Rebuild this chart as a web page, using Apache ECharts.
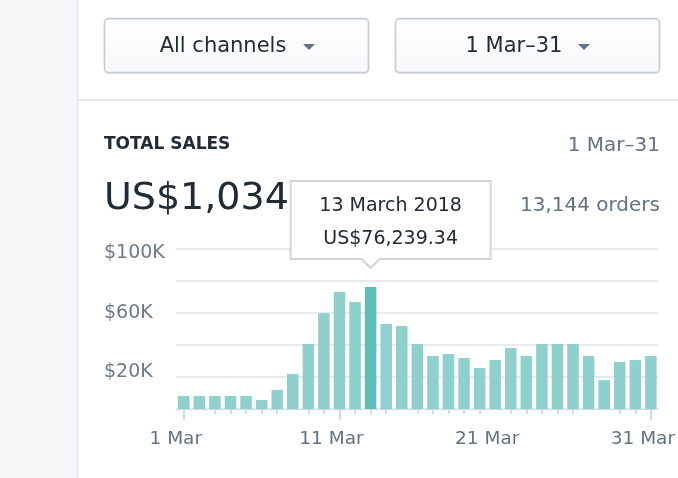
<!DOCTYPE html>
<html>
<head>
<meta charset="utf-8">
<script src="https://cdn.jsdelivr.net/npm/echarts@6/dist/echarts.min.js"></script>
<style>
  html, body { margin: 0; padding: 0; background: #ffffff; }
  #chart { width: 678px; height: 478px; }
</style>
</head>
<body>
<div id="chart"></div>
<script>
// ---- data ----
const days = ['1 Mar','2 Mar','3 Mar','4 Mar','5 Mar','6 Mar','7 Mar','8 Mar','9 Mar','10 Mar',
  '11 Mar','12 Mar','13 Mar','14 Mar','15 Mar','16 Mar','17 Mar','18 Mar','19 Mar','20 Mar',
  '21 Mar','22 Mar','23 Mar','24 Mar','25 Mar','26 Mar','27 Mar','28 Mar','29 Mar','30 Mar','31 Mar'];
const sales = [8100, 8100, 8100, 8100, 8100, 5600, 11900, 21900, 40600, 59800,
  73100, 66900, 76239.34, 53100, 51900, 40600, 33100, 34400, 31900, 25600,
  30600, 38100, 33100, 40600, 40600, 40600, 33100, 18100, 29400, 30600, 33100];
const yTickLabels = ['$100K', '$60K', '$20K'];
const yTickValues = [100000, 60000, 20000];
const highlightIndex = 12;
const highlightDate = '13 March 2018';
const totalSales = 'US$1,034';
const ordersText = '13,144 orders';
const channelText = 'All channels';
const rangeText = '1 Mar\u201331';
const cardTitle = 'TOTAL SALES';
const majorTickIdx = [0, 10, 30];
const hiddenMinorIdx = [1, 7, 14, 20, 26, 27];

const FONT = '"DejaVu Sans", Inter, sans-serif';
const DARK = '#212b36';
const GREY = '#637381';

function fmtMoney(v) {
  const s = v.toFixed(2);
  const parts = s.split('.');
  return 'US$' + parts[0].replace(/\B(?=(\d{3})+(?!\d))/g, ',') + '.' + parts[1];
}

const chart = echarts.init(document.getElementById('chart'), null, { renderer: 'canvas' });

const yRich = {
  t: { color: '#6d7a87', fontFamily: FONT, fontSize: 19, padding: [8, 0, 0, 0] },
  m: { color: '#6d7a87', fontFamily: FONT, fontSize: 19, padding: [0, 0, 0, 0] },
  b: { color: '#6d7a87', fontFamily: FONT, fontSize: 19, padding: [0, 0, 10, 0] }
};
const yRichKeys = ['t', 'm', 'b'];

const option = {
  animation: false,
  backgroundColor: '#ffffff',
  grid: { left: 176, right: 16, top: 249, bottom: 69, containLabel: false },
  xAxis: [
    {
      type: 'category',
      data: days,
      boundaryGap: true,
      axisLine: { show: true, lineStyle: { color: '#d5dade', width: 1 } },
      axisTick: {
        show: true, alignWithLabel: true, length: 5,
        lineStyle: { color: '#c9d0d6', width: 1.5 },
        interval: function (i) { return majorTickIdx.indexOf(i) < 0 && hiddenMinorIdx.indexOf(i) < 0; }
      },
      axisLabel: { show: false }
    },
    {
      type: 'category',
      data: days,
      position: 'bottom',
      boundaryGap: true,
      axisLine: { show: false },
      axisTick: {
        show: true, alignWithLabel: true, length: 11,
        lineStyle: { color: '#c4cdd5', width: 1.5 },
        interval: function (i) { return majorTickIdx.indexOf(i) >= 0; }
      },
      axisLabel: {
        show: true,
        interval: function (i) { return i % 10 === 0; },
        color: GREY, fontFamily: FONT, fontSize: 18.5,
        margin: 21,
        padding: [0, 16, 0, 0]
      }
    }
  ],
  yAxis: {
    type: 'value',
    min: 0, max: 100000, interval: 20000,
    axisLine: { show: false },
    axisTick: { show: false },
    splitLine: { show: true, lineStyle: { color: '#dfe3e8', width: 1.5 } },
    axisLabel: {
      color: '#6d7a87', fontFamily: FONT, fontSize: 19,
      align: 'left', margin: 72,
      rich: yRich,
      formatter: function (v) {
        const k = yTickValues.indexOf(v);
        return k >= 0 ? '{' + yRichKeys[k] + '|' + yTickLabels[k] + '}' : '';
      }
    }
  },
  series: [{
    type: 'bar',
    xAxisIndex: 0,
    data: sales.map(function (v, i) {
      return i === highlightIndex ? { value: v, itemStyle: { color: '#5fbcb8' } } : v;
    }),
    barCategoryGap: '26%',
    itemStyle: { color: '#8fd0cc' },
    silent: true
  }]
};
chart.setOption(option);

// ---- overlay UI (text & frames) ----
const pt = chart.convertToPixel({ xAxisIndex: 0, yAxisIndex: 0 }, [highlightIndex, sales[highlightIndex]]);
const tipX = pt[0], tipY = pt[1] - 19;
const boxW = 200, boxH = 78;
const boxL = tipX - 80, boxB = tipY - 9, boxT = boxB - boxH;

function button(x, label, triX) {
  return [
    { type: 'rect', shape: { x: x + 0.5, y: 18.5, width: 264, height: 54, r: 4 },
      style: { fill: new echarts.graphic.LinearGradient(0, 0, 0, 1, [{ offset: 0, color: '#ffffff' }, { offset: 1, color: '#f7f8fa' }]),
               stroke: '#c4cdd5', lineWidth: 1.5, shadowColor: 'rgba(22,29,37,0.08)', shadowBlur: 1, shadowOffsetY: 1 }, z: 10 },
    { type: 'text', x: x + 119, y: 47, style: { text: label, fill: DARK, font: '21px ' + FONT, align: 'center', verticalAlign: 'middle' }, z: 11 },
    { type: 'polygon', shape: { points: [[triX - 6, 44], [triX + 6, 44], [triX, 50]] }, style: { fill: GREY }, z: 11 }
  ];
}

const graphics = [
  { type: 'rect', shape: { x: 0, y: 0, width: 77, height: 478 }, style: { fill: '#f4f6f8' }, z: 1 },
  { type: 'line', shape: { x1: 77.5, y1: 0, x2: 77.5, y2: 478 }, style: { stroke: '#e3e6e9', lineWidth: 1.5 }, z: 2 },
  { type: 'line', shape: { x1: 78, y1: 100, x2: 678, y2: 100 }, style: { stroke: '#e1e4e8', lineWidth: 2 }, z: 2 },
  ...button(104, channelText, 309),
  ...button(395, rangeText, 584),
  { type: 'text', x: 104, y: 145, style: { text: cardTitle, fill: DARK, font: 'bold 17px ' + FONT, align: 'left', verticalAlign: 'middle' }, z: 10 },
  { type: 'text', x: 660, y: 146, style: { text: rangeText, fill: GREY, font: '20px ' + FONT, align: 'right', verticalAlign: 'middle' }, z: 10 },
  { type: 'text', x: 104, y: 199, style: { text: totalSales, fill: DARK, font: '38px ' + FONT, align: 'left', verticalAlign: 'middle' }, z: 10 },
  { type: 'text', x: 660, y: 206, style: { text: ordersText, fill: GREY, font: '20px ' + FONT, align: 'right', verticalAlign: 'middle' }, z: 10 },
  // tooltip
  { type: 'rect', shape: { x: boxL, y: boxT, width: boxW, height: boxH }, style: { fill: '#ffffff', stroke: '#cfd5db', lineWidth: 2 }, z: 20 },
  { type: 'polygon', shape: { points: [[tipX - 9, boxB - 1], [tipX + 9, boxB - 1], [tipX, tipY]] }, style: { fill: '#ffffff' }, z: 21 },
  { type: 'polyline', shape: { points: [[tipX - 9, boxB], [tipX, tipY], [tipX + 9, boxB]] }, style: { stroke: '#cfd5db', lineWidth: 2, fill: null }, z: 21 },
  { type: 'text', x: boxL + boxW / 2, y: boxT + 25, style: { text: highlightDate, fill: DARK, font: '19px ' + FONT, align: 'center', verticalAlign: 'middle' }, z: 22 },
  { type: 'text', x: boxL + boxW / 2, y: boxT + 58, style: { text: fmtMoney(sales[highlightIndex]), fill: DARK, font: '19px ' + FONT, align: 'center', verticalAlign: 'middle' }, z: 22 }
];
chart.setOption({ graphic: { elements: graphics } });
</script>
</body>
</html>
